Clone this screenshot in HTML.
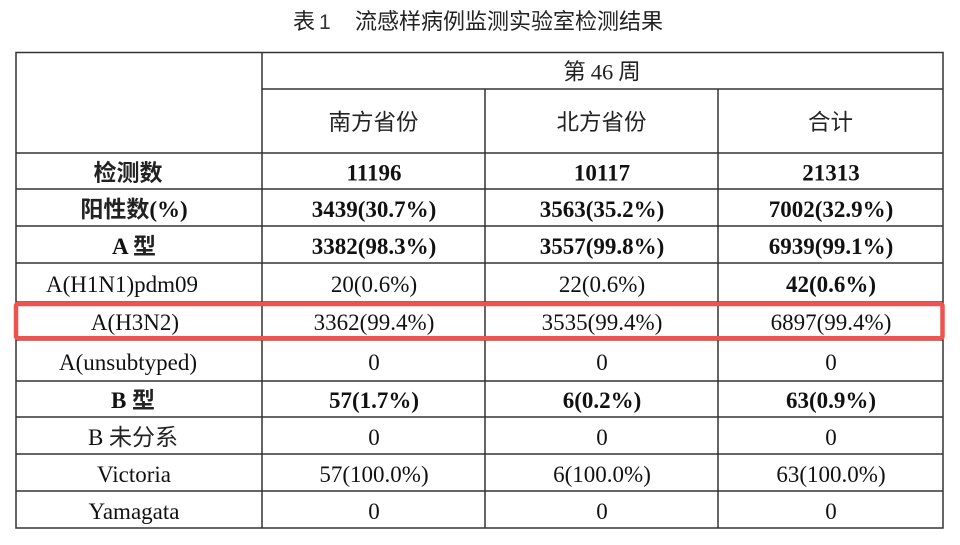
<!DOCTYPE html>
<html>
<head>
<meta charset="utf-8">
<style>
  html,body{margin:0;padding:0;background:#fff;}
  svg{display:block;}
  .t{font-family:"Liberation Serif","Noto Sans CJK SC",serif;font-size:23px;fill:#111;}
  .b{font-weight:bold;}
  .cn{font-family:"Noto Sans CJK SC","WenQuanYi Zen Hei",sans-serif;fill:#222;}
</style>
</head>
<body>
<svg width="960" height="545" viewBox="0 0 960 545" xmlns="http://www.w3.org/2000/svg">
  <rect x="0" y="0" width="960" height="545" fill="#fff"/>
  <!-- Title -->
  <text x="293" y="29" class="cn" font-size="22" fill="#333">表</text>
  <text x="319" y="29" font-family="Liberation Sans, sans-serif" font-size="21" fill="#333">1</text>
  <text x="355" y="29" class="cn" font-size="22" fill="#333">流感样病例监测实验室检测结果</text>

  <!-- Grid -->
  <g stroke="#333" stroke-width="1.5" fill="none">
    <rect x="16" y="52.5" width="927" height="475.5"/>
    <line x1="262" y1="52.5" x2="262" y2="528"/>
    <line x1="485" y1="89" x2="485" y2="528"/>
    <line x1="718" y1="89" x2="718" y2="528"/>
    <line x1="262" y1="89" x2="943" y2="89"/>
    <line x1="16" y1="153" x2="943" y2="153"/>
    <line x1="16" y1="189" x2="943" y2="189"/>
    <line x1="16" y1="226" x2="943" y2="226"/>
    <line x1="16" y1="263" x2="943" y2="263"/>
    <line x1="16" y1="302" x2="943" y2="302"/>
    <line x1="16" y1="340" x2="943" y2="340"/>
    <line x1="16" y1="381" x2="943" y2="381"/>
    <line x1="16" y1="417" x2="943" y2="417"/>
    <line x1="16" y1="454" x2="943" y2="454"/>
    <line x1="16" y1="491" x2="943" y2="491"/>
  </g>

  <!-- Header -->
  <text x="602" y="79.5" text-anchor="middle" class="cn" font-size="22.5">第 <tspan font-family="Liberation Serif, serif">46</tspan> 周</text>
  <text x="373.5" y="130" text-anchor="middle" class="cn" font-size="22.5">南方省份</text>
  <text x="601.5" y="130" text-anchor="middle" class="cn" font-size="22.5">北方省份</text>
  <text x="830.5" y="130" text-anchor="middle" class="cn" font-size="22.5">合计</text>

  <!-- Row 1 -->
  <g class="t" text-anchor="middle">
    <text x="128" y="180.5" class="cn b" font-size="23" font-weight="bold">检测数</text>
    <text x="374" y="180.5" class="t b">11196</text>
    <text x="602" y="180.5" class="t b">10117</text>
    <text x="831" y="180.5" class="t b">21313</text>

    <text x="134" y="217" class="t b"><tspan class="cn" font-weight="bold">阳性数</tspan>(%)</text>
    <text x="374" y="217" class="t b">3439(30.7%)</text>
    <text x="602" y="217" class="t b">3563(35.2%)</text>
    <text x="831" y="217" class="t b">7002(32.9%)</text>

    <text x="134" y="254" class="t b">A <tspan class="cn" font-weight="bold">型</tspan></text>
    <text x="374" y="254" class="t b">3382(98.3%)</text>
    <text x="602" y="254" class="t b">3557(99.8%)</text>
    <text x="831" y="254" class="t b">6939(99.1%)</text>

    <text x="122" y="292" class="t">A(H1N1)pdm09</text>
    <text x="374" y="292" class="t">20(0.6%)</text>
    <text x="602" y="292" class="t">22(0.6%)</text>
    <text x="831" y="292" class="t b">42(0.6%)</text>

    <text x="135" y="330" class="t">A(H3N2)</text>
    <text x="374" y="330" class="t">3362(99.4%)</text>
    <text x="602" y="330" class="t">3535(99.4%)</text>
    <text x="831" y="330" class="t">6897(99.4%)</text>

    <text x="128" y="370" class="t">A(unsubtyped)</text>
    <text x="374" y="370" class="t">0</text>
    <text x="602" y="370" class="t">0</text>
    <text x="831" y="370" class="t">0</text>

    <text x="133" y="408" class="t b">B <tspan class="cn" font-weight="bold">型</tspan></text>
    <text x="374" y="408" class="t b">57(1.7%)</text>
    <text x="602" y="408" class="t b">6(0.2%)</text>
    <text x="831" y="408" class="t b">63(0.9%)</text>

    <text x="133" y="445" class="t">B <tspan class="cn">未分系</tspan></text>
    <text x="374" y="445" class="t">0</text>
    <text x="602" y="445" class="t">0</text>
    <text x="831" y="445" class="t">0</text>

    <text x="134" y="482" class="t">Victoria</text>
    <text x="374" y="482" class="t">57(100.0%)</text>
    <text x="602" y="482" class="t">6(100.0%)</text>
    <text x="831" y="482" class="t">63(100.0%)</text>

    <text x="134" y="519" class="t">Yamagata</text>
    <text x="374" y="519" class="t">0</text>
    <text x="602" y="519" class="t">0</text>
    <text x="831" y="519" class="t">0</text>
  </g>

  <!-- Red highlight box -->
  <rect x="16" y="304" width="926.5" height="34.3" rx="2" ry="2" fill="none" stroke="#ef5350" stroke-width="4.5"/>
</svg>
</body>
</html>
